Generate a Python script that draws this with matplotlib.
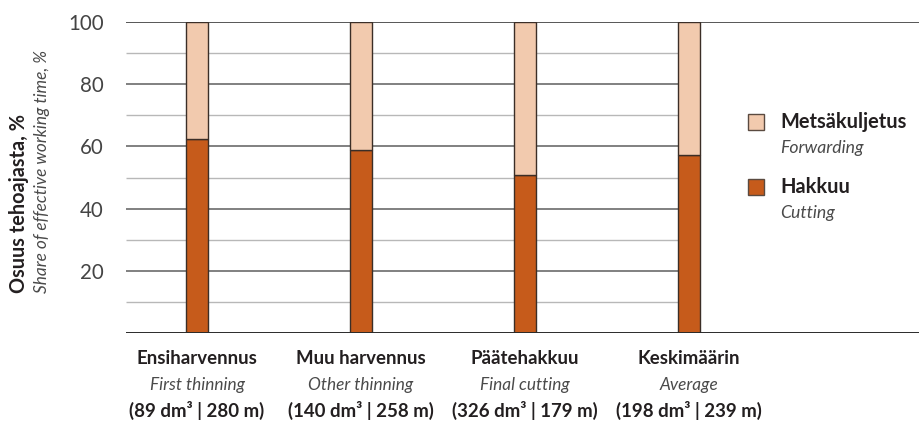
import matplotlib
matplotlib.use("Agg")
import matplotlib.pyplot as plt
from matplotlib.transforms import blended_transform_factory
from matplotlib.patches import Rectangle

plt.rcParams['font.family'] = ['Lato', 'DejaVu Sans']

# Data
categories_fi = ["Ensiharvennus", "Muu harvennus", "Päätehakkuu", "Keskimäärin"]
categories_en = ["First thinning", "Other thinning", "Final cutting", "Average"]
stand_info = ["(89 dm³ | 280 m)", "(140 dm³ | 258 m)", "(326 dm³ | 179 m)", "(198 dm³ | 239 m)"]
hakkuu = [62.4, 58.8, 50.8, 57.2]
metsakuljetus = [100 - v for v in hakkuu]
major_ticks = [20, 40, 60, 80, 100]
minor_ticks = [10, 30, 50, 70, 90]

C_CUT = "#C65B1B"
C_FWD = "#F2CAAE"
C_EDGE = "#3B2E27"
C_TEXT = "#231F20"
C_SUB = "#4A4A4A"

W, H = 922, 422
fig = plt.figure(figsize=(W / 100, H / 100), dpi=100)
ax = fig.add_axes([126 / W, 1 - 333 / H, (919 - 126) / W, (333 - 22) / H])

x = list(range(len(categories_fi)))
bw = 0.134
ax.set_xlim(-0.433, 4.402)
ax.set_ylim(0, 100)

# Gridlines behind bars
x_end = x[-1] + bw / 2
for t in minor_ticks:
    ax.hlines(t, -0.433, x_end, color="#B8B8B8", lw=1.0, zorder=0)
for t in major_ticks[:-1]:
    ax.hlines(t, -0.433, x_end, color="#5E5E5E", lw=1.1, zorder=0)
ax.hlines(100, -0.433, 4.402, color="#3A3A3A", lw=1.2, zorder=0)
ax.hlines(0, -0.433, 4.402, color="#2A2A2A", lw=1.4, zorder=3)

ax.bar(x, hakkuu, width=bw, color=C_CUT, edgecolor=C_EDGE, linewidth=1.0, zorder=2)
ax.bar(x, metsakuljetus, bottom=hakkuu, width=bw, color=C_FWD, edgecolor=C_EDGE,
       linewidth=1.0, zorder=2)

for s in ax.spines.values():
    s.set_visible(False)
ax.set_xticks([])
ax.set_yticks(major_ticks)
ax.set_yticklabels([str(t) for t in major_ticks], fontsize=14.8, color="#444444")
ax.tick_params(axis="y", length=0, pad=16)

# Category labels
tr = blended_transform_factory(ax.transData, fig.transFigure)
for i in x:
    ax.text(i, 1 - 358 / H, categories_fi[i], transform=tr, ha="center", va="center",
            fontsize=13.4, fontweight="bold", color=C_TEXT)
    ax.text(i, 1 - 385 / H, categories_en[i], transform=tr, ha="center", va="center",
            fontsize=12.4, style="italic", color=C_SUB)
    ax.text(i, 1 - 410 / H, stand_info[i], transform=tr, ha="center", va="center",
            fontsize=13.4, fontweight="bold", color=C_TEXT)

# Y-axis title
fig.text(19 / W, 1 - 293 / H, "Osuus tehoajasta, %", rotation=90, rotation_mode="anchor",
         ha="left", va="center", fontsize=14.3, fontweight="bold", color=C_TEXT)
fig.text(42 / W, 1 - 293 / H, "Share of effective working time, %", rotation=90,
         rotation_mode="anchor", ha="left", va="center", fontsize=12.4, style="italic",
         color=C_SUB)

# Legend
legend_items = [(C_FWD, "Metsäkuljetus", "Forwarding", 122),
                (C_CUT, "Hakkuu", "Cutting", 187)]
for color, fi, en, py in legend_items:
    fig.patches.append(Rectangle((748 / W, 1 - (py + 8) / H), 16 / W, 16 / H,
                                 transform=fig.transFigure, facecolor=color,
                                 edgecolor="#5A4A40", linewidth=1.0))
    fig.text(780 / W, 1 - py / H, fi, ha="left", va="center", fontsize=14.4,
             fontweight="bold", color=C_TEXT)
    fig.text(780 / W, 1 - (py + 26) / H, en, ha="left", va="center", fontsize=12.7,
             style="italic", color=C_SUB)

fig.savefig("out.png", dpi=100)
